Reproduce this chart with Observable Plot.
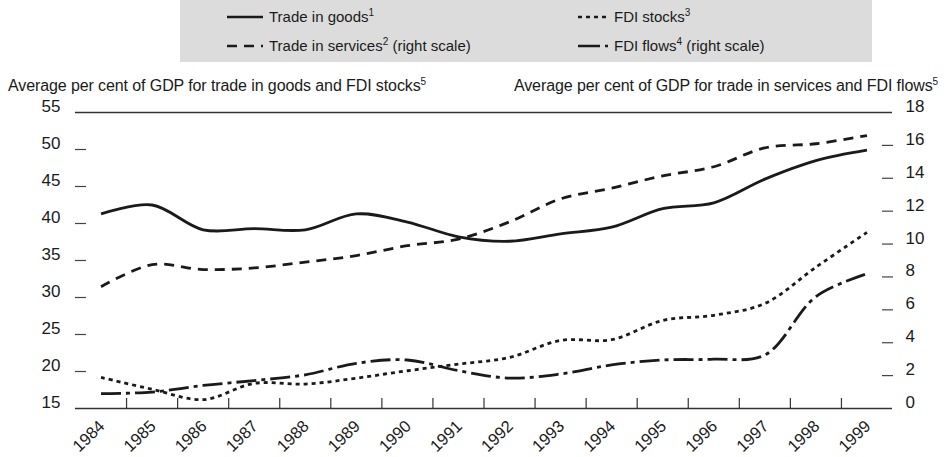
<!DOCTYPE html>
<html>
<head>
<meta charset="utf-8">
<script src="https://cdn.jsdelivr.net/npm/d3@7"></script>
<script src="https://cdn.jsdelivr.net/npm/@observablehq/plot@0.6"></script>
<style>
  body { margin:0; width:948px; height:457px; position:relative; overflow:hidden; background:#fff;
         font-family:"Liberation Sans", Arial, Helvetica, sans-serif; color:#1a1a1a; }
  #legend { position:absolute; left:180px; top:0; width:692px; height:62px; background:#dcdcdc; }
  .item { position:absolute; font-size:15px; line-height:16px; display:flex; align-items:center; white-space:nowrap; }
  .item svg { margin-right:6px; }
  sup { font-size:10px; line-height:0; vertical-align:6px; }
  .ytitle { position:absolute; top:77px; font-size:16px; letter-spacing:-0.1px; white-space:nowrap; }
  #chart { position:absolute; left:0; top:90px; }
</style>
</head>
<body>
<div id="legend"></div>
<div class="ytitle" id="tl" style="left:8px"></div>
<div class="ytitle" id="tr" style="right:10px"></div>
<div id="chart"></div>
<script>
// ---- data ----
const years    = [1984,1985,1986,1987,1988,1989,1990,1991,1992,1993,1994,1995,1996,1997,1998,1999];
const goods    = [41.3,42.5,39.15,39.3,39.15,41.3,40.2,38.2,37.6,38.6,39.5,42.0,42.8,46.0,48.5,49.9];   // left scale
const services = [7.4,8.75,8.45,8.55,8.9,9.3,9.9,10.3,11.35,12.75,13.4,14.15,14.7,15.85,16.1,16.6];  // right scale
const stocks   = [19.2,17.6,16.2,18.4,18.3,19.1,20.1,21.0,21.9,24.2,24.3,26.9,27.6,29.2,34.1,38.8]; // left scale
const flows    = [0.9,1.0,1.4,1.7,2.05,2.75,2.95,2.3,1.85,2.1,2.65,2.95,3.0,3.25,6.8,8.2];           // right scale
const leftTicks  = [15,20,25,30,35,40,45,50,55];
const rightTicks = [0,2,4,6,8,10,12,14,16,18];
const seriesNames = ["Trade in goods", "Trade in services", "FDI stocks", "FDI flows"];
const seriesNotes = ["1", "2", "3", "4"];
const leftTitle  = "Average per cent of GDP for trade in goods and FDI stocks";
const rightTitle = "Average per cent of GDP for trade in services and FDI flows";

// ---- styles ----
const ink = "#1a1a1a";
const dashes = { goods: null, services: "10,7", stocks: "4,4", flows: "20,5,4,5" };

const L0 = leftTicks[0], L1 = leftTicks[leftTicks.length-1], R1 = rightTicks[rightTicks.length-1];
const toLeft = r => L0 + r * (L1 - L0) / R1;
const toRight = l => Math.round((l - L0) * R1 / (L1 - L0));

const rows = years.map((y, i) => ({year: y, goods: goods[i], services: toLeft(services[i]), stocks: stocks[i], flows: toLeft(flows[i])}));
const boundaries = years.slice(1).map(y => y - 0.5);

const H = 367, mt = 22, mb = 49;
const pxPerUnit = (H - mt - mb) / (L1 - L0);
const tickLen = 10 / pxPerUnit;

const lineOpts = (key) => ({x: "year", y: key, curve: "catmull-rom", stroke: ink, strokeWidth: 2.8,
  strokeDasharray: dashes[key], strokeLinecap: "butt"});

const chart = Plot.plot({
  width: 948, height: H, marginLeft: 75, marginRight: 56, marginTop: mt, marginBottom: mb,
  x: {domain: [years[0] - 0.5, years[years.length-1] + 0.5], axis: null},
  y: {domain: [L0, L1], axis: null},
  style: {fontFamily: '"Liberation Sans", Arial, sans-serif', fontSize: "17px", color: ink, background: "transparent"},
  marks: [
    Plot.ruleY([L0, L1], {stroke: "#333", strokeWidth: 1.5}),
    Plot.ruleX(boundaries, {x: d => d, y1: L0, y2: L0 + tickLen, stroke: "#333", strokeWidth: 1.2}),
    // left scale
    Plot.axisY(leftTicks.slice(1, -1), {anchor: "left", tickSize: 11, dx: 11, fill: "none", stroke: "#444", strokeWidth: 1.2, label: null}),
    Plot.axisY(leftTicks, {anchor: "left", tickSize: 0, tickPadding: 15, dy: -6, fontSize: 17, label: null, tickFormat: d => String(d)}),
    // right scale
    Plot.axisY(rightTicks.slice(1, -1).map(toLeft), {anchor: "right", tickSize: 11, dx: -11, fill: "none", stroke: "#444", strokeWidth: 1.2, label: null}),
    Plot.axisY(rightTicks.map(toLeft), {anchor: "right", tickSize: 0, tickPadding: 13, dy: -6, fontSize: 17, label: null, tickFormat: d => String(toRight(d))}),
    // x labels
    Plot.axisX(years, {anchor: "bottom", tickSize: 0, tickPadding: 15, tickRotate: -44, fontSize: 16.5, dx: 1, label: null, tickFormat: d => String(d)}),
    Plot.line(rows, lineOpts("goods")),
    Plot.line(rows, lineOpts("services")),
    Plot.line(rows, lineOpts("stocks")),
    Plot.line(rows, lineOpts("flows"))
  ]
});
document.getElementById("chart").appendChild(chart);

// ---- titles ----
document.getElementById("tl").innerHTML = leftTitle + "<sup>5</sup>";
document.getElementById("tr").innerHTML = rightTitle + "<sup>5</sup>";

// ---- legend ----
const legend = document.getElementById("legend");
const keys = ["goods", "services", "stocks", "flows"];
const suffix = ["", " (right scale)", "", " (right scale)"];
const pos = [[47, 17], [47, 46], [398, 17], [398, 46]];
keys.forEach((k, i) => {
  const div = document.createElement("div");
  div.className = "item";
  div.style.left = pos[i][0] + "px";
  div.style.top = (pos[i][1] - 8) + "px";
  const w = k === "stocks" || k === "flows" ? 30 : 36;
  const da = k === "flows" ? "22,5,5,5" : (dashes[k] || "none");
  div.innerHTML = `<svg width="${w}" height="8"><line x1="0" x2="${w}" y1="4" y2="4" stroke="${ink}" stroke-width="2.6" stroke-dasharray="${da}"/></svg>` +
    `<span>${seriesNames[i]}<sup>${seriesNotes[i]}</sup>${suffix[i]}</span>`;
  legend.appendChild(div);
});
</script>
</body>
</html>
